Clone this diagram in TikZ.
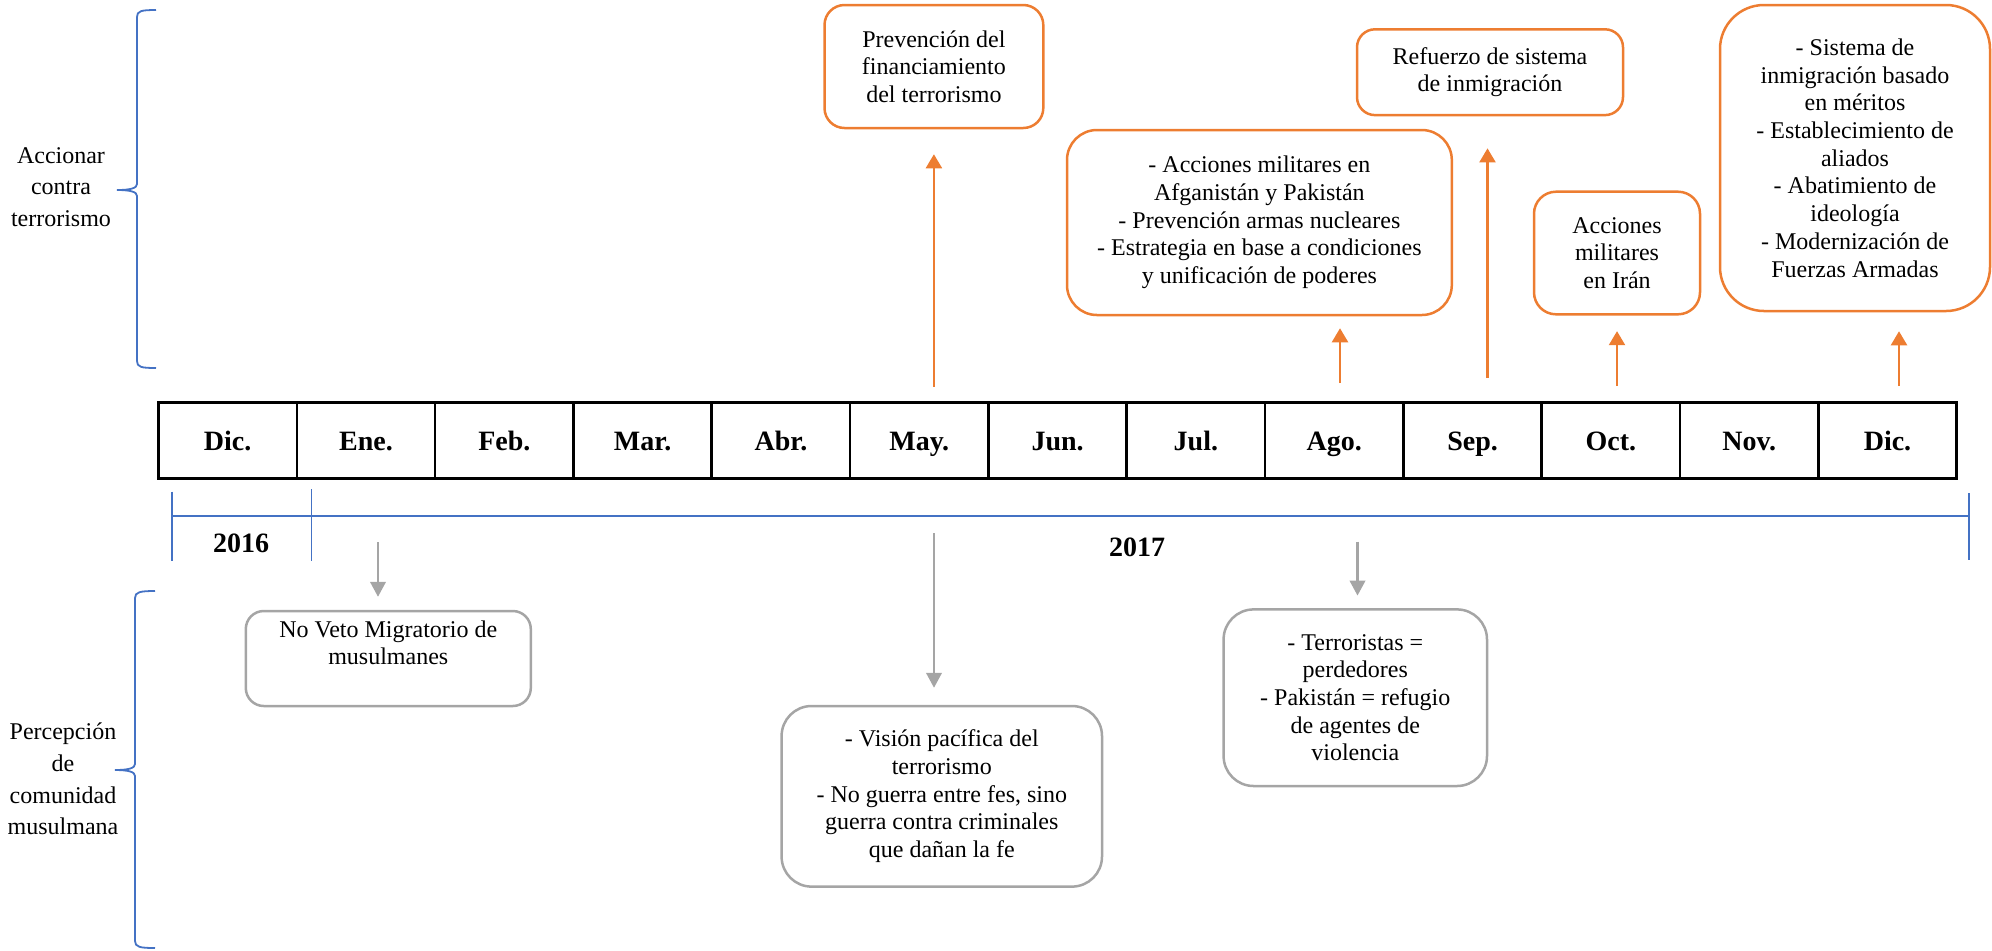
\documentclass[tikz,border=0pt]{standalone}
\usepackage{fontspec}
\setmainfont{Liberation Serif}
\usetikzlibrary{arrows.meta}
\definecolor{orng}{HTML}{ED7D31}
\definecolor{gry}{HTML}{A5A5A5}
\definecolor{blu}{HTML}{4472C4}
\begin{document}
\begin{tikzpicture}[x=0.5pt,y=-0.5pt,
  txt/.style={font=\fontsize{12}{13.85}\selectfont, align=center, inner sep=0pt},
  obox/.style={txt, draw=orng, line width=1.25pt, rounded corners=#1},
  obox/.default=10pt,
  gbox/.style={txt, draw=gry, line width=1.25pt, rounded corners=#1},
  gbox/.default=10pt,
  lbl/.style={font=\fontsize{12}{15.85}\selectfont, align=center, inner sep=0pt},
  cell/.style={draw=black, line width=1.3pt, minimum width=69.16pt, minimum height=38pt, inner sep=0pt, text height=9.3pt, text depth=0pt, font=\fontsize{14}{16}\selectfont\bfseries},
  yr/.style={font=\fontsize{14}{16}\selectfont\bfseries, inner sep=0pt},
  oarrow/.style={draw=orng, line width=1.1pt, -{Triangle[length=7pt,width=8pt]}},
  garrow/.style={draw=gry, line width=1.1pt, -{Triangle[length=7.5pt,width=7.8pt]}},
  bline/.style={draw=blu, line width=0.8pt},
  brace/.style={draw=blu, line width=0.9pt}
]
\useasboundingbox (0,0) rectangle (1992,950);

% left labels
\node[lbl] (lab1) at (61,187) {Accionar\\contra\\terrorismo};
\node[lbl] (lab2) at (63,779) {Percepción\\de\\comunidad\\musulmana};

% braces
\draw[brace] (156,10) .. controls (141,10) and (137,11) .. (137,17) -- (137,184)
  .. controls (137,188) and (131,190) .. (117,190)
  .. controls (131,190) and (137,192) .. (137,196) -- (137,361)
  .. controls (137,367) and (141,368) .. (156,368);
\draw[brace] (155,591) .. controls (140,591) and (135,592) .. (135,598) -- (135,764)
  .. controls (135,768) and (129,770) .. (115,770)
  .. controls (129,770) and (135,772) .. (135,776) -- (135,941)
  .. controls (135,947) and (140,948) .. (155,948);

% timeline cells
\foreach \m [count=\i from 0] in {Dic.,Ene.,Feb.,Mar.,Abr.,May.,Jun.,Jul.,Ago.,Sep.,Oct.,Nov.,Dic.}
  \node[cell] (m\i) at ({158.5+138.32*\i+69.16},440.7) {\m};

% year brackets
\coordinate (y1t) at (171.9,491.7);
\coordinate (y1b) at (171.9,561);
\coordinate (y2t) at (311.6,489);
\coordinate (y2b) at (311.6,561);
\coordinate (y3t) at (1969,493);
\coordinate (y3b) at (1969,560);
\coordinate (hl) at (171.9,516);
\coordinate (hr) at (1969,516);
\draw[bline] (y1t) -- (y1b);
\draw[bline] (y2t) -- (y2b);
\draw[bline] (y3t) -- (y3b);
\draw[bline] (hl) -- (hr);
\node[yr] (y2016) at (241,543) {2016};
\node[yr] (y2017) at (1137,547) {2017};

% orange boxes
\node[obox=10pt, minimum width=109.4pt, minimum height=61.5pt] (prev) at (933.9,66.5)
  {Prevención del\\financiamiento\\del terrorismo};
\node[obox=15pt, minimum width=192.4pt, minimum height=92.5pt] (afg) at (1259.4,222.5)
  {- Acciones militares en\\Afganistán y Pakistán\\- Prevención armas nucleares\\- Estrategia en base a condiciones\\y unificación de poderes};
\node[obox=9pt, minimum width=133pt, minimum height=42.9pt] (ref) at (1490,72.2)
  {Refuerzo de sistema\\de inmigración};
\node[obox=11pt, minimum width=83pt, minimum height=61.3pt] (iran) at (1617,253)
  {Acciones\\militares\\en Irán};
\node[obox=22pt, minimum width=135pt, minimum height=153pt] (sist) at (1855,158)
  {- Sistema de\\inmigración basado\\en méritos\\- Establecimiento de\\aliados\\- Abatimiento de\\ideología\\- Modernización de\\Fuerzas Armadas};

% gray boxes
\node[gbox=9pt, minimum width=142.5pt, minimum height=47.5pt] (veto) at (388.3,658.5)
  {No Veto Migratorio de\\musulmanes\\[2pt]};
\node[gbox=15pt, minimum width=160.2pt, minimum height=90.3pt] (vision) at (941.8,796.3)
  {- Visión pacífica del\\terrorismo\\- No guerra entre fes, sino\\guerra contra criminales\\que dañan la fe};
\node[gbox=15pt, minimum width=131.7pt, minimum height=88.3pt] (terr) at (1355.3,697.7)
  {- Terroristas =\\perdedores\\- Pakistán = refugio\\de agentes de\\violencia};

% orange arrows (up)
\coordinate (oa1) at (933.9,386.7);
\coordinate (oa2) at (1340,383);
\coordinate (oa3) at (1487.5,378);
\coordinate (oa4) at (1617,386);
\coordinate (oa5) at (1899,386);
\draw[oarrow, shorten >=12.5pt] (oa1) -- (oa1 |- prev.south);
\draw[oarrow, shorten >=6pt] (oa2) -- (oa2 |- afg.south);
\draw[oarrow, shorten >=16pt] (oa3) -- (oa3 |- ref.south);
\draw[oarrow, shorten >=7.8pt] (oa4) -- (oa4 |- iran.south);
\draw[oarrow, shorten >=9.5pt] (oa5) -- (oa5 |- sist.south);

% gray arrows (down)
\coordinate (ga1) at (378,542);
\coordinate (ga2) at (934,533);
\coordinate (ga3) at (1357.5,541.7);
\draw[garrow, shorten >=6.5pt] (ga1) -- (ga1 |- veto.north);
\draw[garrow, shorten >=8.5pt] (ga2) -- (ga2 |- vision.north);
\draw[garrow, shorten >=6.3pt] (ga3) -- (ga3 |- terr.north);
\end{tikzpicture}
\end{document}
